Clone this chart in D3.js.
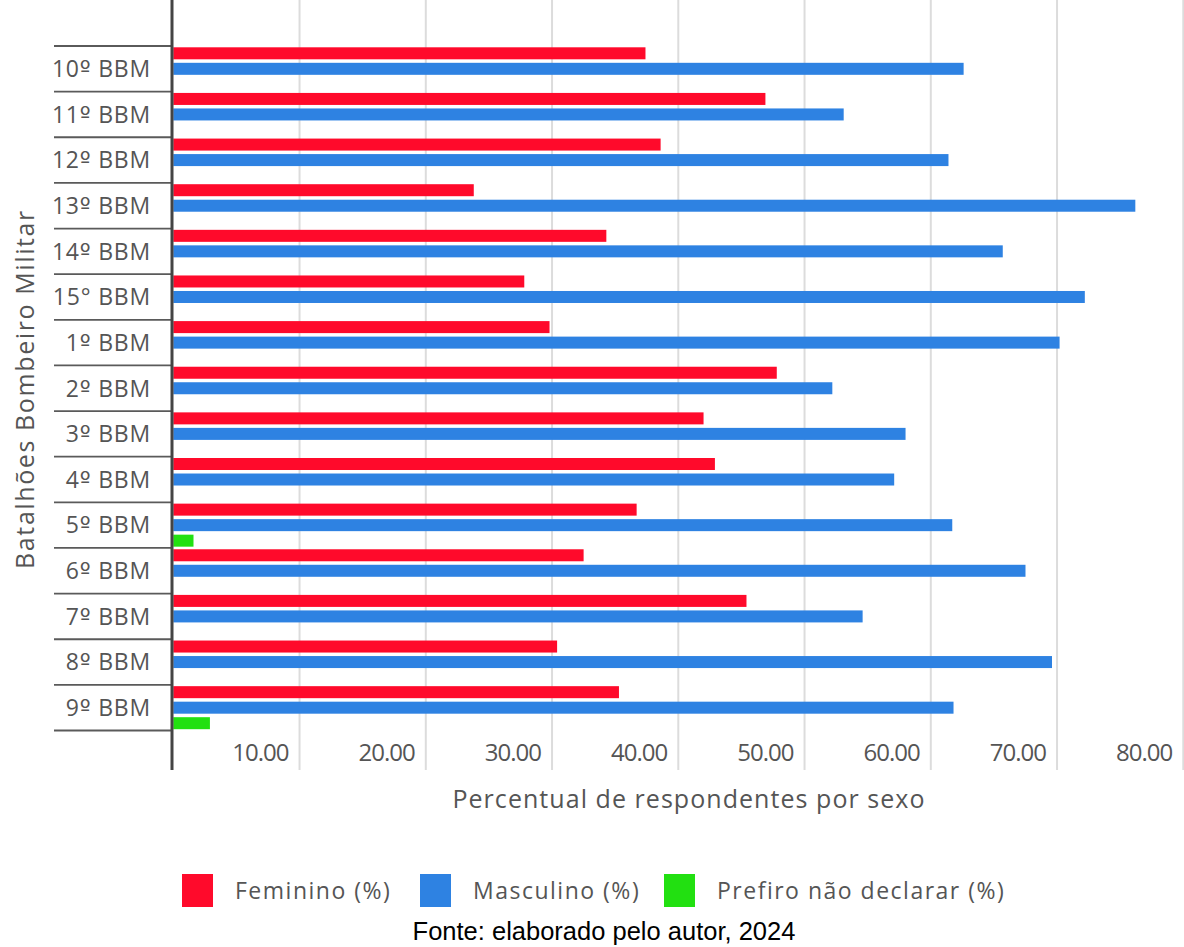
<!DOCTYPE html>
<html>
<head>
<meta charset="utf-8">
<script src="https://cdn.jsdelivr.net/npm/d3@7"></script>
<style>
  html, body { margin: 0; padding: 0; background: #fff; }
  svg { display: block; }
</style>
</head>
<body>
<script>
// Battalions, top to bottom
const categories = ["10º BBM", "11º BBM", "12º BBM", "13º BBM", "14º BBM", "15° BBM", "1º BBM",
  "2º BBM", "3º BBM", "4º BBM", "5º BBM", "6º BBM", "7º BBM", "8º BBM", "9º BBM"];

// Share of respondents by sex (%)
const feminino    = [37.4, 46.9, 38.6, 23.8, 34.3, 27.8, 29.8, 47.8, 42.0, 42.9, 36.7, 32.5, 45.4, 30.4, 35.3];
const masculino   = [62.6, 53.1, 61.4, 76.2, 65.7, 72.2, 70.2, 52.2, 58.0, 57.1, 61.7, 67.5, 54.6, 69.6, 61.8];
const naoDeclarar = [0, 0, 0, 0, 0, 0, 0, 0, 0, 0, 1.6, 0, 0, 0, 2.9];

const seriesNames = ["Feminino (%)", "Masculino (%)", "Prefiro não declarar (%)"];
const seriesColors = ["#ff0a2b", "#2e82e2", "#22e011"];
const tickValues = [10, 20, 30, 40, 50, 60, 70, 80];

const W = 1184, H = 947;
const svg = d3.select("body").append("svg").attr("width", W).attr("height", H);

const x = d3.scaleLinear().domain([0, 80]).range([173.3, 1183.3]);
const y = d3.scaleBand().domain(categories).range([46, 730.5]);
const inner = d3.scaleBand().domain(seriesNames).range([0, y.bandwidth()])
  .paddingInner(0.226).paddingOuter(0.084);

const labelFont = "'Open Sans', 'Noto Sans', sans-serif";
const grey = "#555";

// Vertical gridlines
svg.append("g").selectAll("line").data(tickValues).join("line")
  .attr("x1", d => x(d)).attr("x2", d => x(d))
  .attr("y1", 0).attr("y2", 770)
  .attr("stroke", "#dcdcdc").attr("stroke-width", 2);

// Bars
const rows = categories.map((c, i) => ({
  cat: c,
  vals: [feminino[i], masculino[i], naoDeclarar[i]]
}));

const rowG = svg.append("g").selectAll("g").data(rows).join("g")
  .attr("transform", d => `translate(0,${y(d.cat)})`);

rowG.selectAll("rect")
  .data(d => d.vals.map((v, k) => ({ v, k })).filter(e => e.v > 0))
  .join("rect")
  .attr("x", x(0))
  .attr("y", e => inner(seriesNames[e.k]))
  .attr("width", e => x(e.v) - x(0))
  .attr("height", inner.bandwidth())
  .attr("fill", e => seriesColors[e.k]);

// Category separators on the left
const bounds = categories.map(c => y(c)).concat([y.range()[1]]);
svg.append("g").selectAll("line").data(bounds).join("line")
  .attr("x1", 54).attr("x2", 172)
  .attr("y1", d => d).attr("y2", d => d)
  .attr("stroke", "#5a5a5a").attr("stroke-width", 1.8);

// Category labels; the ordinal sign is set in a face that underlines it
const catText = svg.append("g").selectAll("text").data(categories).join("text")
  .attr("x", 151)
  .attr("y", d => y(d) + y.bandwidth() / 2)
  .attr("dy", "0.36em")
  .attr("text-anchor", "end")
  .attr("font-family", labelFont)
  .attr("font-size", 23)
  .attr("letter-spacing", 0.8)
  .attr("fill", grey);
catText.each(function (d) {
  const t = d3.select(this);
  const m = d.match(/^(\d+)(\S)(.*)$/);
  t.append("tspan").text(m[1]);
  t.append("tspan")
    .attr("font-family", m[2] === "º" ? "'DejaVu Sans', sans-serif" : labelFont)
    .text(m[2]);
  t.append("tspan").text(m[3]);
});

// Y axis line
svg.append("line")
  .attr("x1", 172).attr("x2", 172)
  .attr("y1", 0).attr("y2", 770)
  .attr("stroke", "#444").attr("stroke-width", 3);

// X tick labels
svg.append("g").selectAll("text").data(tickValues).join("text")
  .attr("x", d => x(d) - 11)
  .attr("y", 752)
  .attr("dy", "0.36em")
  .attr("text-anchor", "end")
  .attr("font-family", labelFont)
  .attr("font-size", 24)
  .attr("letter-spacing", -1)
  .attr("fill", grey)
  .text(d => d3.format(".2f")(d));

// Axis titles
svg.append("text")
  .attr("x", 689).attr("y", 799)
  .attr("dy", "0.36em")
  .attr("text-anchor", "middle")
  .attr("font-family", labelFont)
  .attr("font-size", 25)
  .attr("letter-spacing", 1.05)
  .attr("fill", grey)
  .text("Percentual de respondentes por sexo");

svg.append("text")
  .attr("transform", "translate(25,389) rotate(-90)")
  .attr("dy", "0.36em")
  .attr("text-anchor", "middle")
  .attr("font-family", labelFont)
  .attr("font-size", 25)
  .attr("letter-spacing", 1.6)
  .attr("fill", grey)
  .text("Batalhões Bombeiro Militar");

// Legend
const legendX = [182, 420, 664];
const lg = svg.append("g").selectAll("g").data(seriesNames).join("g")
  .attr("transform", (d, i) => `translate(${legendX[i]},874)`);
lg.append("rect")
  .attr("width", 31).attr("height", 33)
  .attr("fill", (d, i) => seriesColors[i]);
lg.append("text")
  .attr("x", 53).attr("y", 17)
  .attr("dy", "0.36em")
  .attr("font-family", labelFont)
  .attr("font-size", 23)
  .attr("letter-spacing", 1.5)
  .attr("fill", grey)
  .text(d => d);

// Source line
svg.append("text")
  .attr("x", 604).attr("y", 940)
  .attr("text-anchor", "middle")
  .attr("font-family", "'Liberation Sans', Arial, sans-serif")
  .attr("font-size", 25.5)
  .attr("fill", "#000")
  .text("Fonte: elaborado pelo autor, 2024");
</script>
</body>
</html>
